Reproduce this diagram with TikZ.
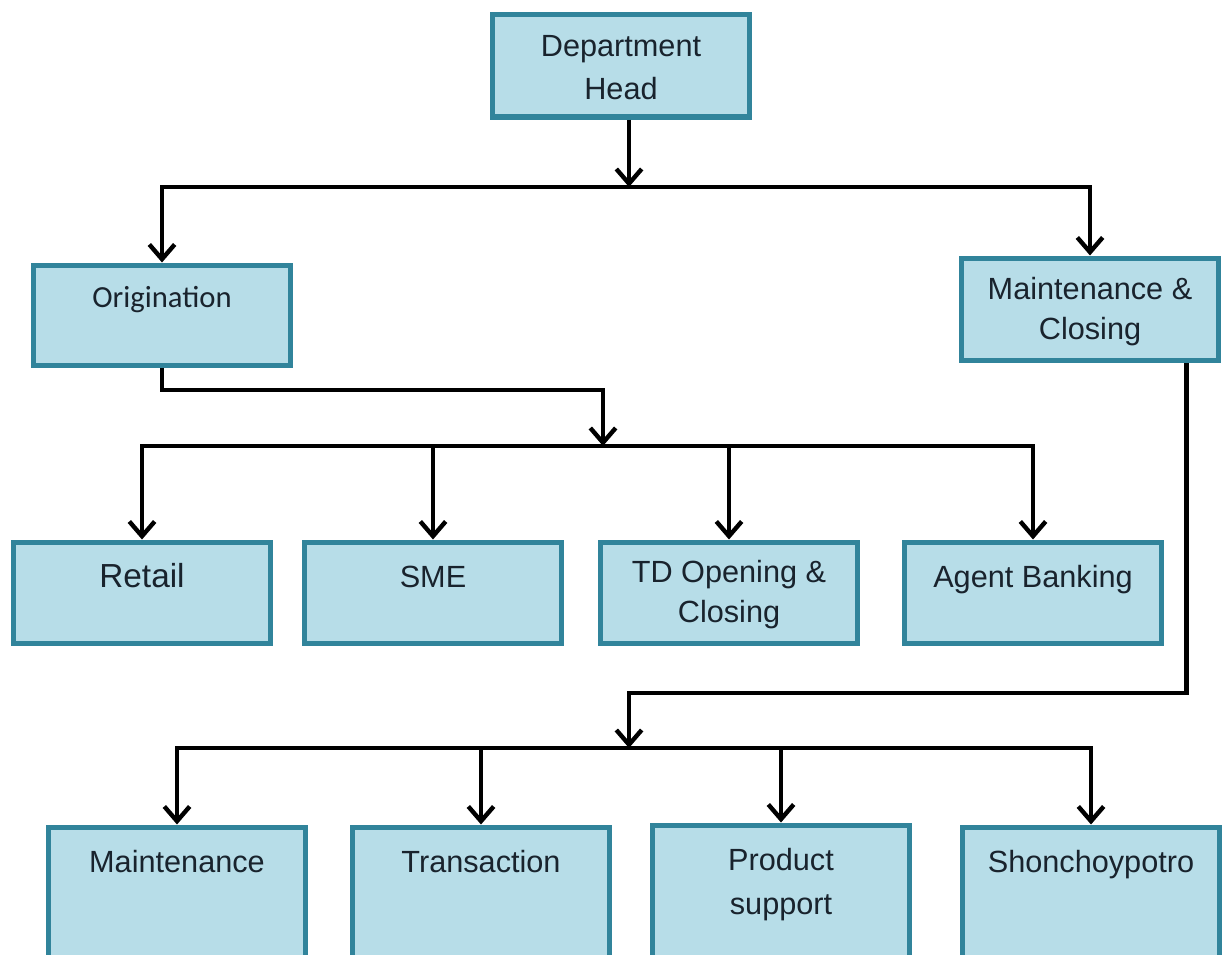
\documentclass[tikz,border=0pt]{standalone}
\usepackage{fontspec}
\setmainfont{Liberation Sans}
\newfontfamily\calfont{Carlito}
\usetikzlibrary{arrows.meta}

\definecolor{boxfill}{RGB}{183,221,232}
\definecolor{boxline}{RGB}{49,132,155}
\definecolor{boxtext}{RGB}{25,35,45}

\tikzset{
  box/.style={rectangle, draw=boxline, fill=boxfill, line width=4pt, inner sep=0pt,
    minimum width=193pt, align=center, text=boxtext,
    font=\fontsize{23pt}{30pt}\selectfont},
  boxone/.style={box, text height=34pt, text depth=42pt},
  boxtwo/.style={box, text height=61pt, text depth=15pt},
  wire/.style={line width=3.3pt, line join=miter},
  arr/.style={wire, -{Straight Barb[length=11pt,width=19pt]}}
}

\begin{document}
\begin{tikzpicture}[x=0.75pt,y=0.75pt,yscale=-1,xscale=1]
\useasboundingbox (0,0) rectangle (1231,954);

% Boxes
\node [boxtwo, anchor=north, text height=64pt, text depth=13pt,
  font=\fontsize{23pt}{32pt}\selectfont] (dept) at (621,11.5) {Department\\Head};
\node [boxone, anchor=north, text height=32pt, text depth=43pt, font=\calfont\fontsize{23pt}{30pt}\selectfont] (orig) at (162,262.5) {Origination};
\node [boxtwo, anchor=north, text depth=15.5pt] (mc) at (1090,255.5) {Maintenance \&\\Closing};

\node [boxone, anchor=north, font=\fontsize{25pt}{30pt}\selectfont] (retail) at (142,539.5) {Retail};
\node [boxone, anchor=north] (sme) at (433,539.5) {SME};
\node [boxtwo, anchor=north, text height=60.5pt, text depth=15.5pt] (td) at (729,539.5) {TD Opening \&\\Closing};
\node [boxone, anchor=north] (agent) at (1033,539.5) {Agent Banking};

\node [boxone, anchor=north, text depth=100pt] (maint) at (177,824.5) {Maintenance};
\node [boxone, anchor=north, text depth=100pt] (trans) at (481,824.5) {Transaction};
\node [boxtwo, anchor=north, text height=67pt, text depth=100pt,
  font=\fontsize{23pt}{33pt}\selectfont] (prod) at (781,822.5) {Product\\support};
\node [boxone, anchor=north, text depth=100pt] (shon) at (1091,824.5) {Shonchoypotro};

% Connectors
\coordinate (top bus) at (629,187);
\draw [arr] (dept.south -| top bus) -- (top bus);
\draw [arr] (top bus) -| (orig.north);
\draw [arr] (top bus) -| (mc.north);

\coordinate (orig turn) at (603,390);
\coordinate (mid bus) at (603,446);
\draw [arr] (orig.south) |- (orig turn) -- (mid bus);
\draw [arr] (mid bus) -| (retail.north);
\draw [arr] (mid bus) -| (sme.north);
\draw [arr] (mid bus) -| (td.north);
\draw [arr] (mid bus) -| (agent.north);

\coordinate (mc turn) at (629,693);
\coordinate (low bus) at (629,748);
\draw [arr] ([xshift=-26pt]mc.south east) |- (mc turn) -- (low bus);
\draw [arr] (low bus) -| (maint.north);
\draw [arr] (low bus) -| (trans.north);
\draw [arr] (low bus) -| (prod.north);
\draw [arr] (low bus) -| (shon.north);

\end{tikzpicture}
\end{document}
